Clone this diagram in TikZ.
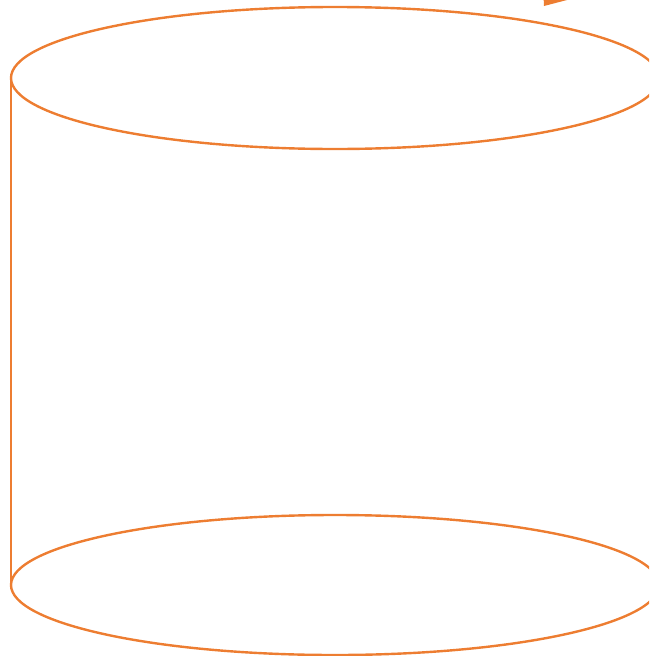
\documentclass[tikz,border=0pt]{standalone}
\usepackage{xcolor}
\definecolor{barrel}{HTML}{ED7D31}
\begin{document}
\begin{tikzpicture}[x=1pt,y=-1pt,
  rim/.style={draw=barrel, line width=2.4pt},
  side/.style={draw=barrel, line width=1.4pt}]
 \useasboundingbox (0,0) rectangle (649,656);
 \clip (0,0) rectangle (649,656);
 \coordinate (topc) at (335,78);
 \coordinate (botc) at (335,585);
 \coordinate (topl) at (11,78);
 \coordinate (botl) at (11,585);
 % rims
 \path[rim] (topc) ellipse [x radius=324, y radius=71];
 \path[rim] (botc) ellipse [x radius=324, y radius=70];
 % left side
 \path[side] (topl) -- (botl);
 % arrow tip, cut off at the top
 \fill[barrel] (544,6) -- (543,-14) -- (590,-6) -- cycle;
\end{tikzpicture}
\end{document}
